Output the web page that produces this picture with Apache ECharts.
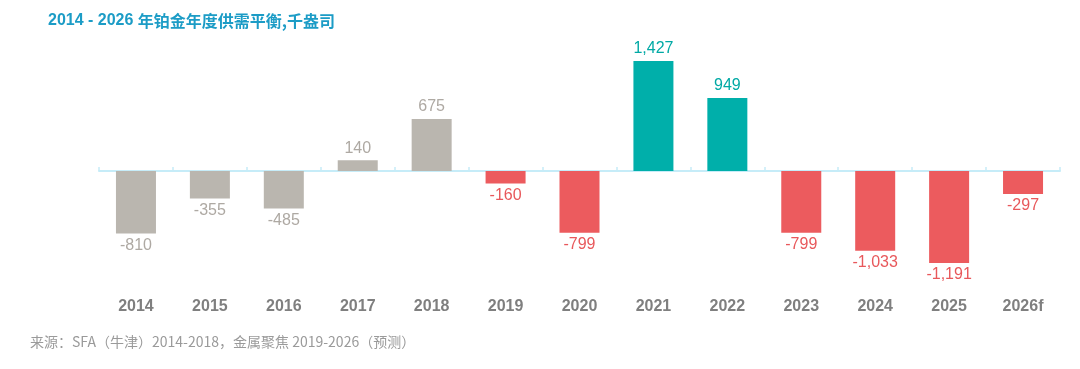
<!DOCTYPE html>
<html>
<head>
<meta charset="utf-8">
<script src="https://cdn.jsdelivr.net/npm/echarts@6/dist/echarts.min.js"></script>
<style>
  html, body { margin: 0; padding: 0; background: #fff; }
  #chart { width: 1080px; height: 369px; }
</style>
</head>
<body>
<div id="chart"></div>
<script>
// 年份
var years = ['2014', '2015', '2016', '2017', '2018', '2019', '2020', '2021', '2022', '2023', '2024', '2025', '2026f'];
// 供需平衡，千盎司
var balance = [-810, -355, -485, 140, 675, -160, -799, 1427, 949, -799, -1033, -1191, -297];
// 数据来源：SFA 为 2014-2018，MF 为金属聚焦
var sources = ['SFA', 'SFA', 'SFA', 'SFA', 'SFA', 'MF', 'MF', 'MF', 'MF', 'MF', 'MF', 'MF', 'MF'];

var GRAY = '#bab6af', GRAY_TXT = '#aea9a3';
var TEAL = '#00afaa', TEAL_TXT = '#00a9a5';
var RED = '#ec5b5e', RED_TXT = '#e8585b';

function pickColor(i, txt) {
    if (sources[i] == 'SFA') return txt ? GRAY_TXT : GRAY;
    if (balance[i] >= 0) return txt ? TEAL_TXT : TEAL;
    return txt ? RED_TXT : RED;
}

var barData = [];
for (var i = 0; i < balance.length; i++) {
    barData.push({
        value: balance[i],
        itemStyle: {color: pickColor(i, false)},
        label: {
            position: balance[i] >= 0 ? 'top' : 'bottom',
            color: pickColor(i, true)
        }
    });
}

var myChart = echarts.init(document.getElementById('chart'));
var option = {
    animation: false,
    title: [{
        text: '{a|2014 - 2026 }{b|年铂金年度供需平衡,千盎司}',
        left: 48,
        top: 13,
        padding: 0,
        textStyle: {
            rich: {
                a: {fontSize: 16, fontWeight: 'bold', color: '#1c9cc6', fontFamily: 'Liberation Sans, Arial, sans-serif'},
                b: {fontSize: 16, color: '#1c9cc6', fontFamily: 'Noto Sans CJK SC, sans-serif'}
            }
        }
    }, {
        text: '来源：SFA（牛津）2014-2018，金属聚焦 2019-2026（预测）',
        left: 30,
        top: 335,
        padding: 0,
        textStyle: {fontSize: 14, fontWeight: 'normal', color: '#9a9a9a', fontFamily: 'Noto Sans CJK SC, sans-serif'}
    }],
    grid: {left: 99, right: 20, top: 40, bottom: 90},
    xAxis: [{
        type: 'category',
        data: years,
        position: 'bottom',
        axisLine: {show: false, onZero: false},
        axisTick: {show: false},
        axisLabel: {
            margin: 20,
            fontSize: 16,
            fontWeight: 'bold',
            color: '#7f7f7f',
            fontFamily: 'Liberation Sans, Arial, sans-serif'
        }
    }, {
        type: 'category',
        data: years,
        position: 'bottom',
        axisLine: {show: true, onZero: true, lineStyle: {color: '#c6ecf8', width: 2}},
        axisTick: {show: true, inside: true, length: 4, lineStyle: {color: '#c6ecf8', width: 1.5}},
        axisLabel: {show: false}
    }],
    yAxis: {
        type: 'value',
        min: -1400,
        max: 1700,
        show: false,
        splitLine: {show: false}
    },
    series: [{
        type: 'bar',
        xAxisIndex: 0,
        data: barData,
        barWidth: 40,
        label: {
            show: true,
            fontSize: 16,
            distance: 4,
            fontFamily: 'Liberation Sans, Arial, sans-serif',
            formatter: function (p) {
                return p.value.toLocaleString('en-US');
            }
        }
    }]
};
myChart.setOption(option);
</script>
</body>
</html>
